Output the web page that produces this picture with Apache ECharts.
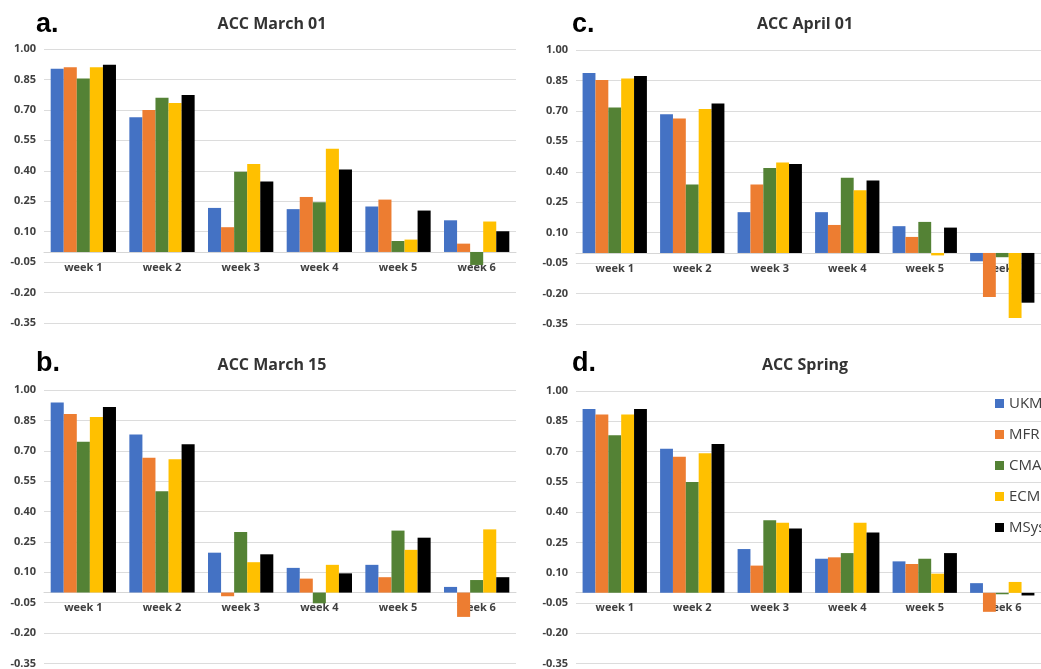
<!DOCTYPE html>
<html>
<head>
<meta charset="utf-8">
<script src="https://cdn.jsdelivr.net/npm/echarts@6/dist/echarts.min.js"></script>
<style>html,body{margin:0;padding:0;background:#fff;}#chart{width:1041px;height:669px;}</style>
</head>
<body>
<div id="chart"></div>
<script>
const weeks = ['week 1', 'week 2', 'week 3', 'week 4', 'week 5', 'week 6'];
const models = ['UKM', 'MFR', 'CMA', 'ECM', 'MSys'];
const yMin = -0.35, yMax = 1.00, yStep = 0.15;

// rows follow `models` order, columns follow `weeks`
const accMarch01 = [
  [0.903, 0.664, 0.217, 0.211, 0.224, 0.156],
  [0.910, 0.699, 0.122, 0.271, 0.258, 0.041],
  [0.855, 0.760, 0.395, 0.245, 0.054, -0.064],
  [0.910, 0.734, 0.434, 0.508, 0.061, 0.150],
  [0.923, 0.773, 0.347, 0.406, 0.204, 0.102]
];
const accMarch15 = [
  [0.938, 0.780, 0.197, 0.122, 0.137, 0.028],
  [0.882, 0.666, -0.018, 0.069, 0.076, -0.120],
  [0.745, 0.500, 0.299, -0.053, 0.306, 0.062],
  [0.867, 0.658, 0.150, 0.137, 0.211, 0.312],
  [0.916, 0.732, 0.189, 0.095, 0.271, 0.076]
];
const accApril01 = [
  [0.887, 0.683, 0.201, 0.201, 0.132, -0.041],
  [0.852, 0.663, 0.337, 0.138, 0.079, -0.217],
  [0.717, 0.337, 0.418, 0.370, 0.153, -0.021],
  [0.859, 0.709, 0.446, 0.309, -0.012, -0.321],
  [0.872, 0.737, 0.438, 0.357, 0.125, -0.245]
];
const accSpring = [
  [0.911, 0.714, 0.217, 0.169, 0.156, 0.048],
  [0.883, 0.674, 0.135, 0.176, 0.143, -0.094],
  [0.781, 0.549, 0.360, 0.197, 0.169, -0.007],
  [0.883, 0.691, 0.347, 0.347, 0.095, 0.054],
  [0.911, 0.738, 0.319, 0.299, 0.197, -0.013]
];

const panelTitles = ['ACC March 01', 'ACC April 01', 'ACC March 15', 'ACC Spring'];
const panelLetters = ['a.', 'c.', 'b.', 'd.'];
const panelData = [accMarch01, accApril01, accMarch15, accSpring];

// layout / style
const colors = ['#4472C4', '#ED7D31', '#548235', '#FFC000', '#000000'];
const grids = [
  { left: 44, top: 49, width: 472, height: 274 },
  { left: 576, top: 50, width: 472, height: 274 },
  { left: 44, top: 390, width: 472, height: 274 },
  { left: 576, top: 391, width: 472, height: 273 }
];
const titlePos = [[267, 11], [800, 11], [267, 352], [800, 352]];
const letterPos = [[31, 6], [567, 6], [31, 345], [567, 345]];
const FONT = '"Open Sans", "Liberation Sans", sans-serif';

const option = {
  animation: false,
  color: colors,
  title: [],
  grid: grids,
  xAxis: [],
  yAxis: [],
  legend: {
    orient: 'vertical',
    left: 995,
    top: 396,
    padding: 0,
    itemWidth: 9,
    itemHeight: 9,
    itemGap: 16,
    icon: 'rect',
    data: models,
    textStyle: { fontFamily: FONT, fontSize: 15, color: '#404040' }
  },
  series: []
};

for (let p = 0; p < 4; p++) {
  const g = grids[p];
  const zeroOffset = -((0 - yMin) / (yMax - yMin)) * g.height;
  option.title.push({
    text: panelTitles[p],
    left: titlePos[p][0], top: titlePos[p][1], textAlign: 'center',
    textStyle: { fontFamily: FONT, fontSize: 16, fontWeight: 'bold', color: '#333333' }
  });
  option.title.push({
    text: panelLetters[p],
    left: letterPos[p][0], top: letterPos[p][1],
    textStyle: { fontFamily: '"Liberation Sans", Arial, sans-serif', fontSize: 27, fontWeight: 'bold', color: '#000000' }
  });
  option.xAxis.push({
    type: 'category', gridIndex: p, data: weeks,
    position: 'bottom', offset: zeroOffset,
    axisLine: { onZero: false, lineStyle: { color: '#d6d6d6', width: 1 } },
    axisTick: { show: false },
    axisLabel: { fontFamily: FONT, fontSize: 11, fontWeight: 'bold', color: '#404040', margin: 10 },
    splitLine: { show: false }
  });
  option.yAxis.push({
    type: 'value', gridIndex: p, min: yMin, max: yMax, interval: yStep,
    axisLine: { show: false }, axisTick: { show: false },
    axisLabel: {
      fontFamily: FONT, fontSize: 11, fontWeight: 'bold', color: '#404040', margin: 8,
      formatter: v => v.toFixed(2)
    },
    splitLine: { lineStyle: { color: '#dcdcdc', width: 1 } }
  });
  panelData[p].forEach((row, m) => {
    option.series.push({
      type: 'bar', name: models[m], xAxisIndex: p, yAxisIndex: p,
      data: row, barGap: '0%', barCategoryGap: '17%',
      itemStyle: { color: colors[m] }
    });
  });
}

const chart = echarts.init(document.getElementById('chart'), null, { renderer: 'canvas' });
chart.setOption(option);
</script>
</body>
</html>
